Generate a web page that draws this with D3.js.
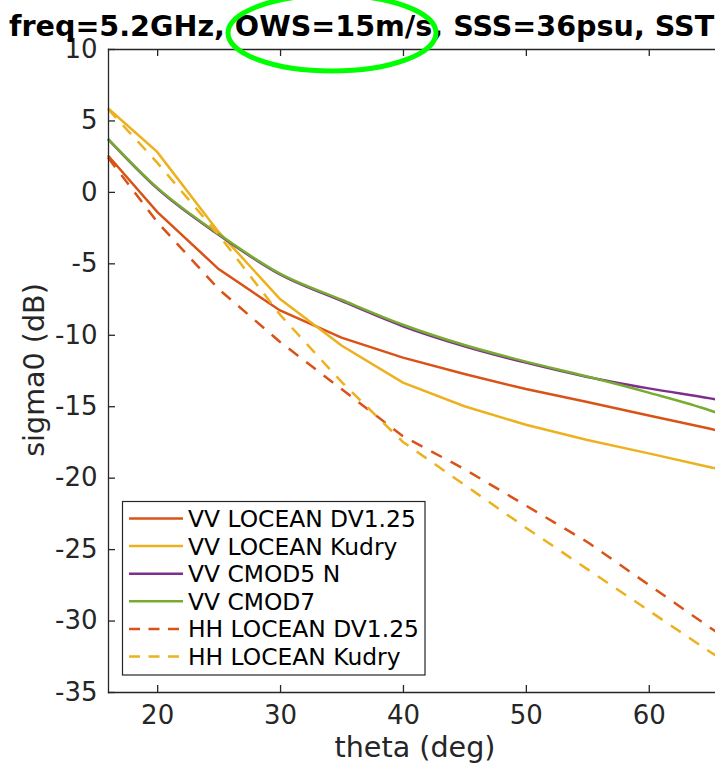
<!DOCTYPE html>
<meta charset="utf-8">
<style>
body { margin: 0; background: #fff; }
svg { display: block; font-family: "DejaVu Sans", sans-serif; }
.axis path, .axis line { stroke: #262626; stroke-width: 1.3; }
.axis text { fill: #262626; font-size: 26px; font-family: "DejaVu Sans", sans-serif; }
.label { fill: #262626; font-size: 28.6px; }
.title { fill: #000; font-size: 28.6px; font-weight: bold; }
.legend text { fill: #000; font-size: 23.4px; }
</style>
<svg width="715" height="767"></svg>
<script src="https://d3js.org/d3.v7.min.js"></script>
<script>

// incidence angle (deg)
var theta = [16, 20, 25, 30, 35, 40, 45, 50, 55, 60, 65, 66];

// sigma0 (dB) per model
var vvDV = [2.55, -1.4, -5.4, -8.3, -10.2, -11.6, -12.75, -13.8, -14.7, -15.65, -16.58, -16.78];
var vvKudry = [5.85, 2.8, -2.8, -7.5, -10.75, -13.35, -15.0, -16.3, -17.36, -18.3, -19.27, -19.45];
var vvCmod5n = [3.7, 0.25, -3.0, -5.78, -7.63, -9.4, -10.8, -11.95, -12.95, -13.75, -14.45, -14.6];
var vvCmod7 = [3.72, 0.3, -2.95, -5.72, -7.55, -9.3, -10.72, -11.88, -12.92, -14.05, -15.3, -15.6];
var hhDV = [2.4, -2.1, -6.8, -10.5, -13.8, -17.1, -19.4, -21.95, -24.5, -27.5, -30.5, -31.1];
var hhKudry = [5.8, 2.05, -3.0, -8.6, -13.3, -17.5, -20.5, -23.5, -26.4, -29.3, -32.2, -32.75];

var names = ["VV LOCEAN DV1.25", "VV LOCEAN Kudry", "VV CMOD5 N", "VV CMOD7", "HH LOCEAN DV1.25", "HH LOCEAN Kudry"];
var colors = ["#D95319", "#EDB120", "#7E2F8E", "#77AC30", "#D95319", "#EDB120"];
var dashed = [false, false, false, false, true, true];
var smooth = [false, false, true, true, false, false];

var xTicks = [20, 30, 40, 50, 60];
var yTicks = [-35, -30, -25, -20, -15, -10, -5, 0, 5, 10];

var series = [vvDV, vvKudry, vvCmod5n, vvCmod7, hhDV, hhKudry].map(function(vals, i) {
  return {
    name: names[i],
    color: colors[i],
    dashed: dashed[i],
    smooth: smooth[i],
    values: vals.map(function(v, j) { return { t: theta[j], v: v }; })
  };
});

var svg = d3.select("svg");

var x = d3.scaleLinear().domain([16, 66]).range([108, 722.5]),
    y = d3.scaleLinear().domain([-35, 10]).range([692, 49]);

// matlab style hyphen minus
var fmt = function(d) { return String(d); };

// lines first, axes on top
var line = d3.line()
    .x(function(d) { return x(d.t); })
    .y(function(d) { return y(d.v); });

svg.append("g")
  .selectAll("path")
    .data(series)
  .enter().append("path")
    .attr("d", function(d) { return line.curve(d.smooth ? d3.curveMonotoneX : d3.curveLinear)(d.values); })
    .attr("fill", "none")
    .attr("stroke", function(d) { return d.color; })
    .attr("stroke-width", 2.5)
    .attr("stroke-dasharray", function(d) { return d.dashed ? "12,10" : null; });

svg.append("g")
    .attr("class", "axis")
    .attr("transform", "translate(0,692)")
    .call(d3.axisBottom(x).tickValues(xTicks).tickFormat(fmt).tickSizeInner(-7).tickSizeOuter(0).tickPadding(14));

svg.append("g")
    .attr("class", "axis")
    .attr("transform", "translate(0,49)")
    .call(d3.axisTop(x).tickValues(xTicks).tickSizeInner(-7).tickSizeOuter(0).tickFormat(""));

svg.append("g")
    .attr("class", "axis")
    .attr("transform", "translate(108,0)")
    .call(d3.axisLeft(y).tickValues(yTicks).tickFormat(fmt).tickSizeInner(-7).tickSizeOuter(0).tickPadding(10.5));

svg.selectAll(".axis .domain").attr("stroke-linecap", "square");

// labels
svg.append("text")
    .attr("class", "label")
    .attr("x", 415)
    .attr("y", 757)
    .attr("text-anchor", "middle")
    .text("theta (deg)");

svg.append("text")
    .attr("class", "label")
    .attr("transform", "translate(44,370) rotate(-90)")
    .attr("text-anchor", "middle")
    .text("sigma0 (dB)");

svg.append("text")
    .attr("class", "title")
    .attr("x", 9)
    .attr("y", 36)
    .text("freq=5.2GHz, OWS=15m/s, SSS=36psu, SST");

// legend
var legend = svg.append("g").attr("class", "legend");

legend.append("rect")
    .attr("x", 122.5)
    .attr("y", 501.5)
    .attr("width", 302.5)
    .attr("height", 173.5)
    .attr("fill", "#fff")
    .attr("stroke", "#262626")
    .attr("stroke-width", 1.2);

var row = legend.selectAll(".row")
    .data(series)
  .enter().append("g")
    .attr("class", "row")
    .attr("transform", function(d, i) { return "translate(0," + (518.5 + i * 27.6) + ")"; });

row.append("line")
    .attr("x1", 129)
    .attr("x2", 183)
    .attr("stroke", function(d) { return d.color; })
    .attr("stroke-width", 2.5)
    .attr("stroke-dasharray", function(d) { return d.dashed ? "11,8.5" : null; });

row.append("text")
    .attr("x", 188)
    .attr("dy", "0.36em")
    .text(function(d) { return d.name; });

// green highlight round the wind speed
svg.append("ellipse")
    .attr("cx", 332)
    .attr("cy", 33)
    .attr("rx", 104)
    .attr("ry", 38)
    .attr("fill", "none")
    .attr("stroke", "#00ff00")
    .attr("stroke-width", 5);

</script>
